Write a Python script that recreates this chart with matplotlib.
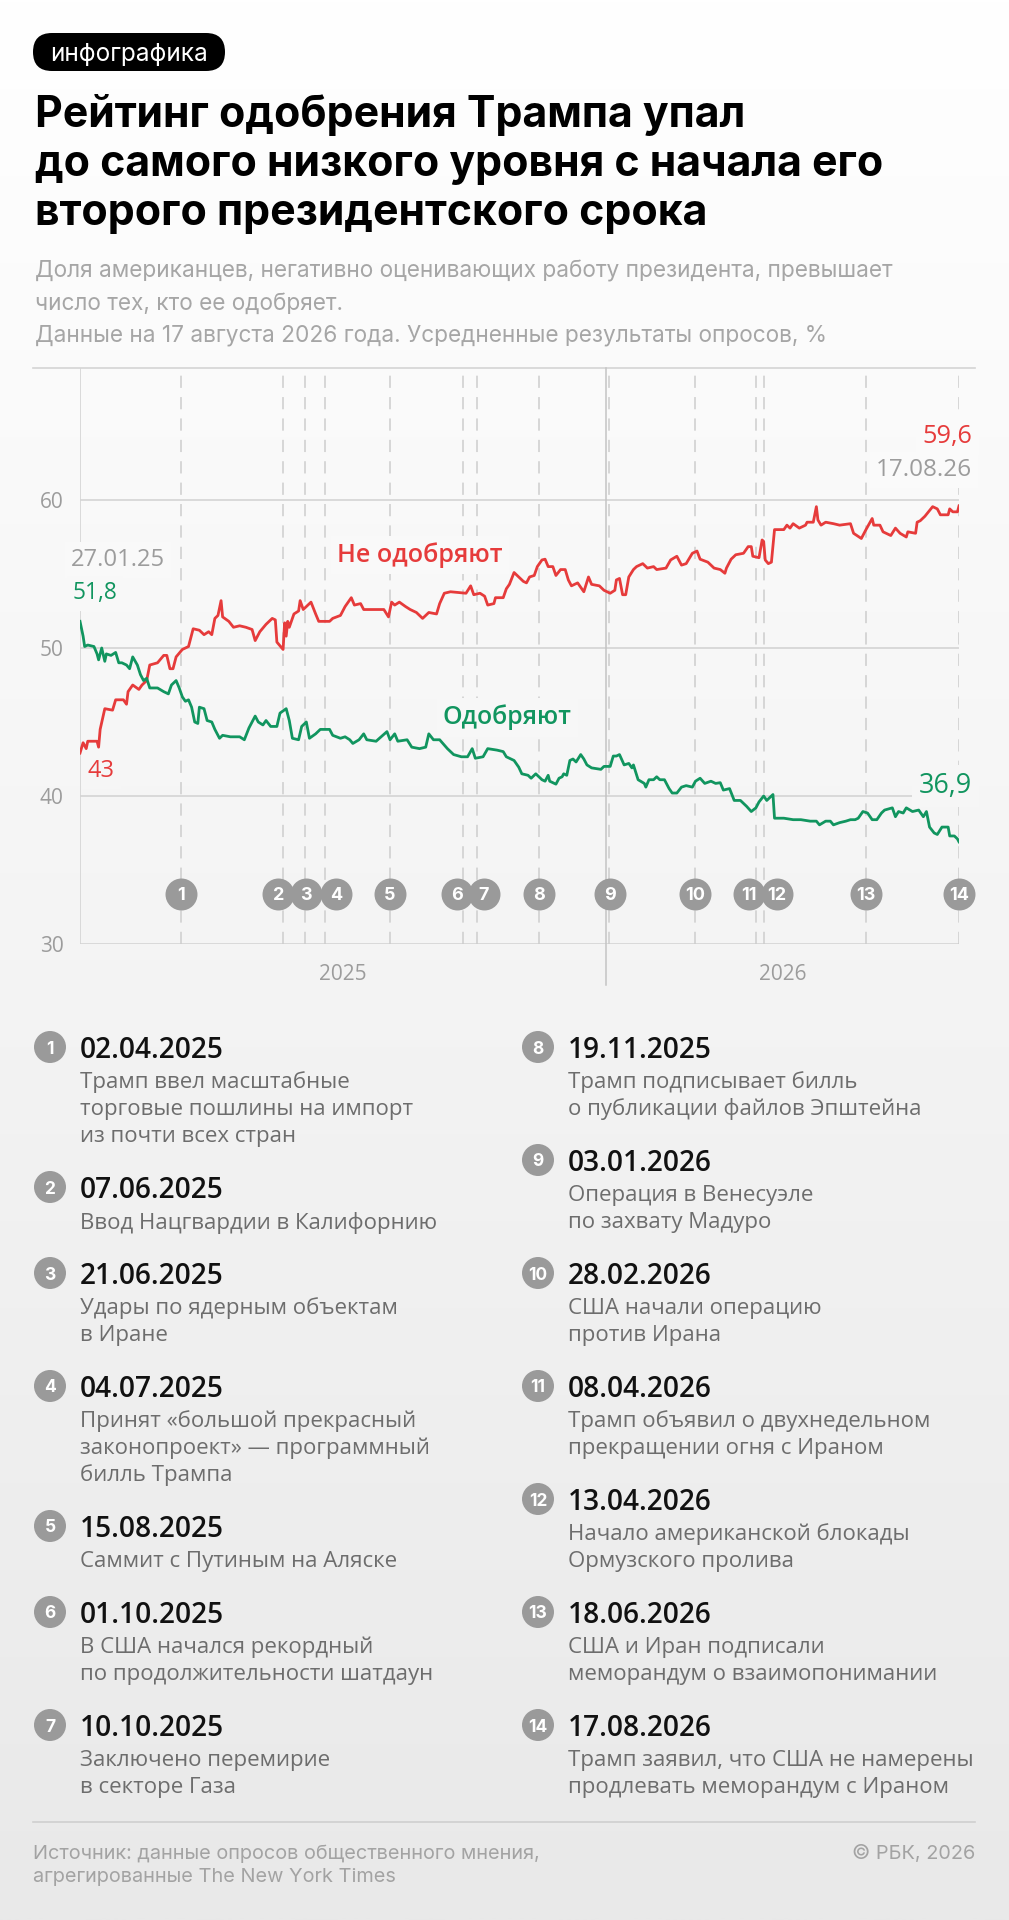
import matplotlib
matplotlib.use('Agg')
import matplotlib.pyplot as plt
from matplotlib.patches import FancyBboxPatch, Circle
from datetime import date
import numpy as np

# canvas size in pixels (dpi 100)
W, H = 1009, 1920
START = date(2025, 1, 27)

RED = '#e63b3b'
GREEN = '#11955f'
GRAY = '#9c9c9c'
GRID = '#d4d4d4'
DASH = '#cdcdcd'
SANS = ['Inter', 'DejaVu Sans']
ROUND = ['Open Sans', 'DejaVu Sans']

# --- data: days since 27.01.2025, values in % ---
dis_days = [0, 2, 4, 5, 11, 12, 13, 16, 21, 23, 28, 30, 31, 34, 38, 40, 43, 45, 50, 54,
            56, 58, 60, 62, 66, 70, 73, 77, 80, 83, 85, 87, 89, 91, 92, 96, 99, 103, 107, 111,
            113, 116, 120, 124, 126, 127, 131, 132, 133, 134, 135, 138, 141, 142, 144, 147, 149, 152, 154, 161,
            163, 168, 171, 175, 177, 181, 183, 196, 199, 201, 203, 206, 210, 213, 217, 221, 225, 230, 232, 235,
            239, 249, 252, 254, 258, 261, 263, 267, 268, 273, 275, 277, 280, 283, 286, 288, 290, 293, 295, 298,
            300, 302, 305, 307, 310, 313, 315, 317, 321, 325, 328, 330, 335, 338, 342, 345, 346, 348, 350, 352,
            354, 357, 359, 363, 366, 370, 372, 378, 381, 385, 388, 391, 395, 398, 400, 405, 409, 413, 416, 417,
            420, 423, 428, 431, 433, 434, 438, 440, 441, 442, 444, 446, 448, 454, 456, 458, 460, 464, 468, 469,
            473, 475, 476, 478, 481, 486, 490, 497, 499, 504, 507, 511, 512, 516, 518, 523, 526, 529, 533, 534,
            539, 540, 542, 545, 550, 553, 555, 560, 561, 563, 566, 567]
dis_vals = [42.9, 43.6, 43.2, 43.7, 43.7, 43.3, 44.5, 45.9, 45.8, 46.5, 46.5, 46.2, 47.05, 47.5, 47.2, 47.5, 47.8, 48.85, 49.0, 49.5,
            49.5, 48.6, 48.6, 49.4, 49.9, 50.1, 51.3, 51.2, 50.9, 51.1, 50.9, 52.0, 52.2, 53.2, 52.1, 51.8, 51.4, 51.5, 51.4, 51.25,
            50.5, 51.1, 51.6, 52.0, 51.9, 50.4, 49.9, 51.7, 50.8, 51.8, 51.4, 52.3, 52.5, 53.2, 52.6, 52.9, 53.1, 52.3, 51.8, 51.8,
            52.0, 52.2, 52.8, 53.4, 52.9, 53.0, 52.6, 52.6, 52.1, 53.1, 52.9, 53.1, 52.8, 52.6, 52.4, 52.0, 52.4, 52.3, 53.0, 53.7,
            53.8, 53.7, 54.2, 53.6, 53.7, 53.5, 52.9, 53.0, 53.4, 53.4, 54.0, 54.3, 55.1, 54.8, 54.5, 54.4, 54.8, 54.9, 55.5, 55.95,
            56.0, 55.5, 55.5, 54.9, 55.3, 55.3, 54.6, 54.2, 54.4, 53.8, 54.8, 54.3, 54.2, 53.9, 53.7, 53.9, 54.6, 54.7, 53.6, 53.6,
            54.8, 55.3, 55.5, 55.7, 55.4, 55.5, 55.3, 55.4, 55.95, 56.2, 55.6, 55.7, 56.4, 56.55, 56.0, 55.8, 55.4, 55.3, 55.05, 55.4,
            56.0, 56.3, 56.4, 56.85, 56.85, 56.2, 56.1, 57.3, 57.2, 55.95, 55.7, 55.8, 58.0, 58.0, 58.3, 58.1, 58.4, 58.1, 58.3, 58.5,
            58.5, 59.55, 58.65, 58.3, 58.5, 58.4, 58.3, 58.4, 57.75, 57.4, 58.0, 58.75, 58.3, 58.3, 57.85, 57.6, 58.1, 57.75, 57.5, 57.85,
            57.75, 58.5, 58.6, 58.9, 59.55, 59.4, 59.0, 59.0, 59.4, 59.2, 59.2, 59.6]

app_days = [0, 2, 3, 5, 9, 11, 12, 14, 16, 17, 20, 23, 25, 27, 30, 32, 34, 37, 39, 41,
            43, 45, 50, 54, 57, 59, 62, 64, 66, 68, 70, 72, 74, 76, 77, 80, 82, 85, 87, 90,
            92, 97, 103, 106, 109, 113, 115, 118, 120, 123, 127, 129, 133, 135, 137, 141, 143, 146, 148, 152,
            155, 161, 163, 168, 171, 174, 176, 180, 183, 185, 191, 198, 200, 203, 205, 211, 214, 219, 223, 225,
            228, 232, 237, 241, 246, 250, 253, 255, 260, 263, 269, 273, 275, 280, 283, 285, 289, 291, 294, 296,
            298, 300, 302, 303, 307, 309, 311, 312, 314, 316, 318, 320, 323, 325, 327, 330, 336, 338, 342, 344,
            346, 348, 351, 354, 356, 357, 360, 364, 365, 367, 370, 372, 374, 377, 380, 382, 385, 388, 391, 395,
            397, 400, 403, 407, 410, 413, 415, 419, 422, 426, 430, 433, 436, 438, 441, 443, 445, 447, 448, 454,
            460, 465, 471, 475, 477, 481, 484, 486, 490, 494, 497, 500, 502, 505, 508, 511, 514, 517, 519, 524,
            526, 528, 531, 533, 537, 541, 544, 546, 548, 551, 553, 556, 560, 561, 564, 566, 567]
app_vals = [51.8, 50.8, 50.1, 50.2, 50.1, 49.6, 49.2, 50.0, 49.1, 49.6, 49.5, 49.7, 49.0, 49.0, 48.85, 48.6, 49.4, 48.85, 48.2, 47.8,
            47.95, 47.3, 47.3, 47.05, 46.9, 47.5, 47.8, 47.3, 46.7, 46.4, 46.5, 46.0, 45.0, 44.9, 46.0, 45.9, 45.1, 45.0, 44.5, 43.9,
            44.1, 44.0, 44.0, 43.8, 44.6, 45.4, 45.0, 44.8, 45.1, 44.7, 44.7, 45.6, 45.9, 45.1, 43.9, 43.8, 44.7, 45.0, 43.9, 44.2,
            44.5, 44.5, 44.1, 43.9, 44.0, 43.8, 43.55, 43.8, 44.2, 43.8, 43.7, 44.35, 43.8, 44.2, 43.7, 43.8, 43.3, 43.2, 43.3, 44.2,
            43.8, 43.8, 43.2, 42.8, 42.65, 42.65, 43.2, 42.55, 42.65, 43.2, 43.1, 43.0, 42.65, 42.4, 41.95, 41.5, 41.4, 41.2, 41.5, 41.3,
            41.1, 41.0, 41.4, 41.0, 40.8, 41.2, 41.3, 41.5, 41.4, 42.4, 42.5, 42.3, 42.8, 42.5, 42.1, 41.9, 41.8, 42.0, 42.0, 42.7,
            42.7, 42.8, 42.1, 42.2, 41.9, 42.1, 41.1, 40.85, 40.6, 41.1, 41.1, 41.3, 41.1, 41.1, 40.5, 40.2, 40.2, 40.6, 40.7, 40.6,
            41.0, 41.2, 40.85, 41.0, 40.85, 40.9, 40.4, 40.5, 39.7, 39.7, 39.3, 38.95, 39.2, 39.6, 40.0, 39.7, 39.9, 40.1, 38.5, 38.5,
            38.4, 38.4, 38.3, 38.3, 38.05, 38.3, 38.3, 38.05, 38.2, 38.3, 38.4, 38.4, 38.5, 38.95, 38.85, 38.4, 38.4, 38.85, 39.05, 39.2,
            38.6, 38.95, 38.85, 39.2, 38.95, 39.05, 38.6, 38.95, 37.9, 37.5, 37.4, 37.9, 37.9, 37.3, 37.3, 37.1, 36.9]

event_dates = ['02.04.2025', '07.06.2025', '21.06.2025', '04.07.2025', '15.08.2025', '01.10.2025', '10.10.2025',
               '19.11.2025', '03.01.2026', '28.02.2026', '08.04.2026', '13.04.2026', '18.06.2026', '17.08.2026']
event_texts = [
    'Трамп ввел масштабные\nторговые пошлины на импорт\nиз почти всех стран',
    'Ввод Нацгвардии в Калифорнию',
    'Удары по ядерным объектам\nв Иране',
    'Принят «большой прекрасный\nзаконопроект» — программный\nбилль Трампа',
    'Саммит с Путиным на Аляске',
    'В США начался рекордный\nпо продолжительности шатдаун',
    'Заключено перемирие\nв секторе Газа',
    'Трамп подписывает билль\nо публикации файлов Эпштейна',
    'Операция в Венесуэле\nпо захвату Мадуро',
    'США начали операцию\nпротив Ирана',
    'Трамп объявил о двухнедельном\nпрекращении огня с Ираном',
    'Начало американской блокады\nОрмузского пролива',
    'США и Иран подписали\nмеморандум о взаимопонимании',
    'Трамп заявил, что США не намерены\nпродлевать меморандум с Ираном',
]
yticks = [30, 40, 50, 60]
year_labels = ['2025', '2026']

title = ['Рейтинг одобрения Трампа упал',
         'до самого низкого уровня с начала его',
         'второго президентского срока']
subtitle = ['Доля американцев, негативно оценивающих работу президента, превышает',
            'число тех, кто ее одобряет.',
            'Данные на 17 августа 2026 года. Усредненные результаты опросов, %']
source = 'Источник: данные опросов общественного мнения,\nагрегированные The New York Times'


def day_of(s):
    d, m, y = (int(p) for p in s.split('.'))
    return (date(y, m, d) - START).days


def bg_color(ypx):
    v = (255 - 22 * ypx / H) / 255
    return (v, v, v)


event_days = [day_of(s) for s in event_dates]
last_day = day_of('17.08.2026')
year_split = day_of('01.01.2026')

fig = plt.figure(figsize=(W / 100, H / 100), dpi=100)

# page layer: gradient background + all page texts
page = fig.add_axes([0, 0, 1, 1], zorder=0)
grad = np.linspace(255, 233, 500) / 255
img = np.repeat(grad[:, None, None], 3, axis=2)
page.imshow(img, extent=(0, W, H, 0), aspect='auto', interpolation='bilinear')
page.set_xlim(0, W)
page.set_ylim(H, 0)
page.axis('off')

# chart
PX = 14.8  # pixels per percentage point
top, bottom = 368, 944
ax = fig.add_axes([80 / W, 1 - bottom / H, 879 / W, (bottom - top) / H], zorder=1)
ax.patch.set_alpha(0)
ax.set_xlim(0, last_day)
ax.set_ylim(30, 30 + (bottom - top) / PX)
for s in ax.spines.values():
    s.set_visible(False)
ax.set_xticks([])
ax.set_yticks(yticks, labels=[str(v) for v in yticks])
ax.tick_params(axis='y', length=0, pad=12, labelsize=15, labelcolor=GRAY)
for lab in ax.get_yticklabels():
    lab.set_family(ROUND)

for v in yticks:
    ax.axhline(v, color=GRID, lw=1.2, zorder=1)
ax.axvline(0, color=GRID, lw=1.2, zorder=1)
for d in event_days:
    ax.axvline(d, color=DASH, lw=1.1, dashes=(8, 6), zorder=1)
ax.axvline(year_split, ymin=-41 / (bottom - top), ymax=1, color='#c4c4c4', lw=1.1, clip_on=False, zorder=1)
page.plot([33, 975], [top, top], color=GRID, lw=1.2)

ax.plot(dis_days, dis_vals, color=RED, lw=2.0, zorder=3)
ax.plot(app_days, app_vals, color=GREEN, lw=2.0, zorder=3)

# event markers (small nudges keep neighbouring circles readable)
nudge = [0, -3, 1, 7, 0, -4, 4.5, 0, 1, 0, -4.5, 8.5, 0, 0]
cy = 30 + (bottom - 894) / PX
cx = [d + n for d, n in zip(event_days, nudge)]
ax.scatter(cx, [cy] * len(cx), s=530, color='#9a9a9a', linewidths=0, zorder=5, clip_on=False)
for i, x in enumerate(cx):
    ax.text(x, cy, str(i + 1), color='white', ha='center', va='center_baseline', fontsize=13,
            fontweight='bold', family=SANS, zorder=6, clip_on=False)

for lab, x0, x1 in zip(year_labels, [0, year_split], [year_split, last_day]):
    ax.text((x0 + x1) / 2, 30 - 28 / PX, lab, ha='center', va='center_baseline', color=GRAY,
            fontsize=15, family=ROUND, clip_on=False)


def vpx(v):
    return bottom - (v - 30) * PX


def label(x, v, s, color, ha='left', weight='normal', size=17):
    return ax.text(x, v, s, color=color, ha=ha, va='center_baseline', fontsize=size, fontweight=weight,
                   family=ROUND, zorder=4, clip_on=False,
                   bbox=dict(boxstyle='square,pad=0.25', fc=bg_color(vpx(v)), ec='none'))


fits = []
fits.append((label(-5.8, 56.15, '27.01.25', GRAY), 94))
fits.append((label(-5, 53.9, '51,8', GREEN), 45))
label(5, 41.9, '43', RED)
fits.append((label(166, 56.5, 'Не одобряют', RED, weight='semibold'), 165))
fits.append((label(234, 45.5, 'Одобряют', GREEN, weight='semibold'), 129))
fits.append((label(575.5, 64.5, '59,6', RED, ha='right'), 50))
fits.append((label(575.5, 62.2, '17.08.26', GRAY, ha='right'), 96))
fits.append((label(575.5, 40.9, '36,9', GREEN, ha='right'), 53))

# header
page.add_patch(FancyBboxPatch((33, 33), 192, 38, boxstyle='round,pad=0,rounding_size=19',
                              fc='black', ec='none'))
badge = page.text(129, 52, 'инфографика', color='white', ha='center', va='center_baseline',
                  fontsize=15, family=SANS)
title_t = [page.text(35, y, s, fontsize=27, fontweight='bold', family=SANS, color='black', va='baseline')
           for s, y in zip(title, [127, 176, 225])]
sub_t = [page.text(35, y, s, fontsize=15, family=SANS, color='#a6a6a6', va='baseline')
         for s, y in zip(subtitle, [278, 310, 342])]

# list of events
date_t, desc_t = [], []
for col, idx in enumerate([range(0, 7), range(7, 14)]):
    cxp = 50 if col == 0 else 538
    tx = 80 if col == 0 else 568
    y = 1047
    for i in idx:
        page.add_patch(Circle((cxp, y), 16, fc='#9a9a9a', ec='none'))
        page.text(cxp, y, str(i + 1), color='white', ha='center', va='center_baseline',
                  fontsize=12.5, fontweight='bold', family=SANS)
        date_t.append(page.text(tx, y, event_dates[i], fontsize=17, fontweight='semibold',
                                family=ROUND, color='#111111', va='center_baseline'))
        lines = event_texts[i].split('\n')
        for k, ln in enumerate(lines):
            desc_t.append(page.text(tx, y + 33 + 27 * k, ln, fontsize=15, family=ROUND,
                                    color='#6d6d6d', va='center_baseline'))
        y += 33 + 27 * (len(lines) - 1) + 53

# footer
page.plot([33, 975], [1822, 1822], color='#cfcfcf', lw=1.2)
foot = [page.text(33, 1852 + 23 * k, ln, fontsize=13, family=SANS, color='#a3a3a3', va='center_baseline')
        for k, ln in enumerate(source.split('\n'))]
copy_t = page.text(975, 1852, '© РБК, 2026', fontsize=13, family=SANS, color='#a3a3a3',
                   ha='right', va='center_baseline')

# scale font sizes so text widths match the original layout
fig.canvas.draw()
r = fig.canvas.get_renderer()


def width(t):
    return t.get_window_extent(renderer=r).width


def scale_group(texts, ref, target):
    k = target / width(ref)
    for t in texts:
        t.set_fontsize(t.get_fontsize() * k)


for t, w in fits:
    scale_group([t], t, w)
scale_group([badge], badge, 158)
k = (713 + 847 + 676) / sum(width(t) for t in title_t)
for t in title_t:
    t.set_fontsize(t.get_fontsize() * k)
k = (866 + 789) / (width(sub_t[0]) + width(sub_t[2]))
for t in sub_t:
    t.set_fontsize(t.get_fontsize() * k)
scale_group(date_t, date_t[0], 143)
ref_desc = [t for t in desc_t if t.get_text().startswith('Трамп заявил')][0]
scale_group(desc_t, ref_desc, 405)
scale_group(foot + [copy_t], foot[0], 506)

fig.savefig('out.png', dpi=100)
